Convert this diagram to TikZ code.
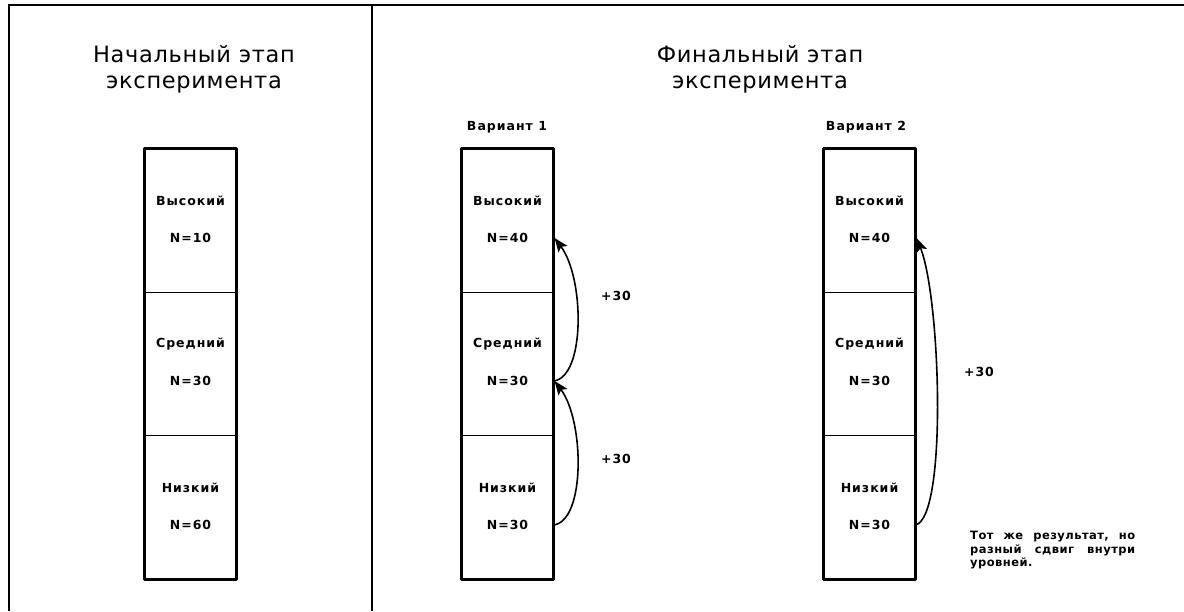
\documentclass[tikz,border=0pt]{standalone}
\usepackage{fontspec}
\setmainfont{DejaVu Sans}
\newfontfamily\lblfont[LetterSpace=8]{DejaVu Sans}
\newfontfamily\ttlfont[LetterSpace=3]{DejaVu Sans}
\newfontfamily\notefont[LetterSpace=4]{DejaVu Sans}
\usetikzlibrary{arrows.meta}
\begin{document}
\begin{tikzpicture}[x=1pt,y=-1pt,
  cell/.style={draw, line width=1.1pt, minimum width=91pt, minimum height=143.5pt, inner sep=0pt, anchor=north},
  lbl/.style={font=\lblfont\fontsize{12.5}{14}\selectfont\bfseries, inner sep=0pt},
  ttl/.style={font=\ttlfont\fontsize{22.5}{26}\selectfont, align=center, inner sep=0pt},
  note/.style={font=\notefont\fontsize{11.5}{13.5}\selectfont\bfseries, text width=165pt, align=left, inner sep=0pt, anchor=north west},
  arr/.style={-{Stealth[length=14pt,width=11pt,inset=3pt]}, line width=1.6pt}]
\useasboundingbox (0,0) rectangle (1184,611);
\fill[white] (0,0) rectangle (1184,611);
\draw[line width=2pt] (9,611) -- (9,5) -- (1184,5);
\draw[line width=1.5pt] (372,5) -- (372,611);

\node[ttl] (t1) at (194,69) {Начальный этап\\эксперимента};
\node[ttl] (t2) at (760,69) {Финальный этап\\эксперимента};
\node[lbl] (v1) at (507,127) {Вариант 1};
\node[lbl] (v2) at (866,127) {Вариант 2};

\foreach \c/\x/\na/\nb/\nc in {A/190.5/10/30/60, B/507.5/40/30/30, C/869.5/40/30/30} {
  \node[cell] (\c1) at (\x,148) {};
  \node[cell] (\c2) at (\x,291.5) {};
  \node[cell] (\c3) at (\x,435) {};
  \draw[line width=3pt, line join=round] (\c1.north west) rectangle (\c3.south east);
  \node[lbl] (\c1t) at (\x,201) {Высокий};
  \node[lbl] (\c1n) at (\x,238) {N=\na};
  \node[lbl] (\c2t) at (\x,344) {Средний};
  \node[lbl] (\c2n) at (\x,381) {N=\nb};
  \node[lbl] (\c3t) at (\x,488) {Низкий};
  \node[lbl] (\c3n) at (\x,525) {N=\nc};
  \coordinate (\c1p) at (\c1.east |- \c1n);
  \coordinate (\c2p) at (\c2.east |- \c2n);
  \coordinate (\c3p) at (\c3.east |- \c3n);
}

\draw[arr] (B3p) .. controls +(32,-4) and +(30,40) .. ([xshift=1pt]B2p);
\draw[arr] (B2p) .. controls +(32,-4) and +(30,40) .. ([xshift=1pt]B1p);
\draw[arr] (C3p) .. controls +(32,-8) and +(24,60) .. ([xshift=1pt]C1p);

\node[lbl] (p1) at (616,296) {+30};
\node[lbl] (p2) at (616,459) {+30};
\node[lbl] (p3) at (979,372) {+30};

\node[note] (nt) at (970,531) {Тот\hfill же\hfill результат,\hfill но\\разный\hfill сдвиг\hfill внутри\\уровней.\hfill\null};
\end{tikzpicture}
\end{document}
